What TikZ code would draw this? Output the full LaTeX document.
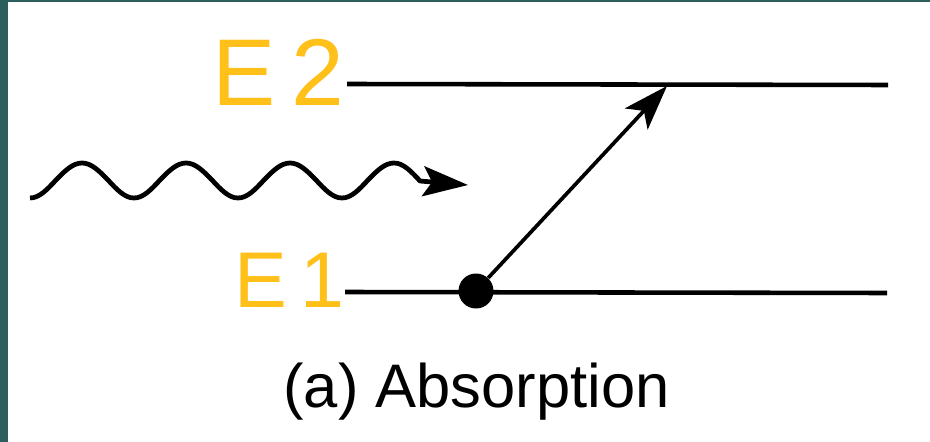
\documentclass[tikz,border=0pt]{standalone}
\usepackage{fontspec}
\setmainfont{Liberation Sans}
\usepackage{xcolor}
\usetikzlibrary{arrows.meta,positioning}
\definecolor{frameteal}{HTML}{2C5E5E}
\definecolor{labelgold}{HTML}{FFC01A}

\begin{document}
\begin{tikzpicture}[
    x=0.02cm, y=-0.02cm,
    level/.style={line width=2.6pt},
    atomdot/.style={circle, fill=black, inner sep=0pt, minimum size=0.7cm},
    transition/.style={line width=2.1pt, -{Stealth[length=0.9cm, width=0.62cm, inset=0.22cm]}},
    photon/.style={line width=2.7pt, line join=round, -{Stealth[length=0.9cm, width=0.6cm, inset=0.18cm]}},
    levellabel/.style={text=labelgold, inner sep=0pt, anchor=base east},
    caption/.style={inner sep=0pt, anchor=base west, font=\fontsize{35}{42}\selectfont}
]

\useasboundingbox (0,0) rectangle (930,442);
\fill[white] (0,0) rectangle (930,442);
\fill[frameteal] (0,0) rectangle (8,442);
\fill[frameteal] (0,0) rectangle (930,2);

\coordinate (e2left) at (347,84);
\coordinate (e2right) at (888,85);
\coordinate (e1left) at (345,292);
\coordinate (e1right) at (887,293);

\draw[level] (e2left) -- (e2right);
\draw[level] (e1left) -- (e1right);

\node[levellabel, font=\fontsize{54}{60}\selectfont] (labelE2) at (345,106) {E\,2};
\node[levellabel, font=\fontsize{45}{50}\selectfont] (labelE1) at (345,308) {E\,1};

\node[atomdot] (atom) at (476,291) {};
\coordinate (excited) at (667,86);
\draw[transition] (atom) -- (excited);

\coordinate (photonstart) at (30,198);
\coordinate (photonend) at (468,185);
\draw[photon] (photonstart)
    cos ++(26,-18) sin ++(26,-17) cos ++(26,17) sin ++(26,18)
    cos ++(26,-18) sin ++(26,-17) cos ++(26,17) sin ++(26,18)
    cos ++(26,-18) sin ++(26,-17) cos ++(26,17) sin ++(26,18)
    cos ++(26,-18) sin ++(26,-17) cos ++(26,18) -- (photonend);

\node[caption] (title) at (283,407) {(a) Absorption};

\end{tikzpicture}
\end{document}
